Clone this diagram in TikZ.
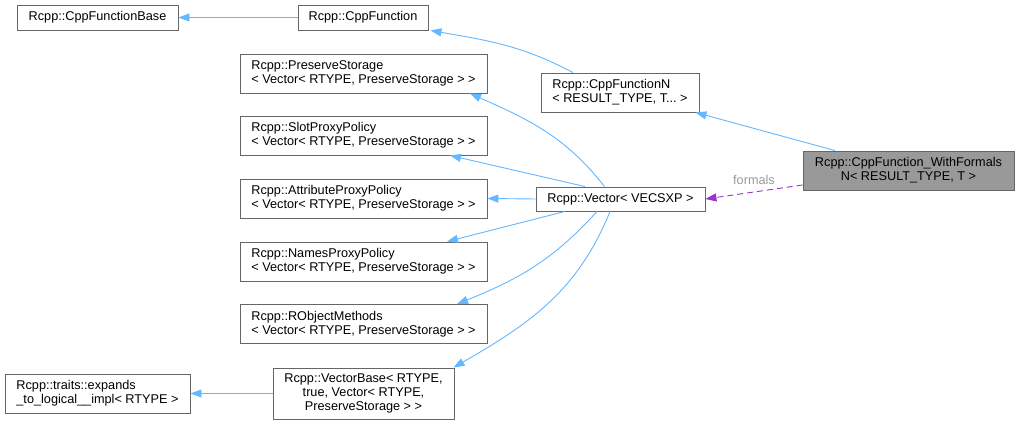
\documentclass[tikz,border=0pt]{standalone}
\usepackage{fontspec}
\setmainfont{Liberation Sans}
\usetikzlibrary{arrows.meta}
\definecolor{edgeblue}{HTML}{63B8FF}
\definecolor{edgepurple}{HTML}{9A32CD}
\definecolor{boxline}{HTML}{666666}
\definecolor{boxfill}{HTML}{999999}
\definecolor{labelgrey}{HTML}{9A9A9A}

\begin{document}
\begin{tikzpicture}[x=1pt, y=1pt,
  cls/.style={draw=boxline, fill=white, rectangle, align=left, inner sep=0pt,
    font=\fontsize{12.7}{14}\selectfont, line width=0.9pt},
  cur/.style={cls, fill=boxfill, align=center},
  inh/.style={-{Triangle[length=11pt, width=8pt]}, color=edgeblue, line width=0.9pt},
  use/.style={-{Triangle[length=11pt, width=8pt]}, color=edgepurple, dash pattern=on 6pt off 4pt, line width=0.9pt}]

\path[use as bounding box, fill=white] (0,0) rectangle (1020,425);

\node[cls, minimum width=161pt, minimum height=25pt] at (97.5, 407.5)  (base)     {Rcpp::CppFunctionBase};
\node[cls, minimum width=130pt, minimum height=25pt] at (363, 407.5)   (cppfun)   {Rcpp::CppFunction};
\node[cls, minimum width=247pt, minimum height=39pt] at (363.5, 351.5) (preserve) {Rcpp::PreserveStorage\\< Vector< RTYPE, PreserveStorage > >};
\node[cls, minimum width=247pt, minimum height=39pt] at (363.5, 289.5) (slot)     {Rcpp::SlotProxyPolicy\\< Vector< RTYPE, PreserveStorage > >};
\node[cls, minimum width=247pt, minimum height=39pt] at (363.5, 226.5) (attr)     {Rcpp::AttributeProxyPolicy\\< Vector< RTYPE, PreserveStorage > >};
\node[cls, minimum width=247pt, minimum height=39pt] at (363.5, 163.5) (names)    {Rcpp::NamesProxyPolicy\\< Vector< RTYPE, PreserveStorage > >};
\node[cls, minimum width=247pt, minimum height=39pt] at (363.5, 101)   (robj)     {Rcpp::RObjectMethods\\< Vector< RTYPE, PreserveStorage > >};
\node[cls, align=center, minimum width=181pt, minimum height=51pt] at (363.5, 31.5) (vecbase) {Rcpp::VectorBase< RTYPE,\\true, Vector< RTYPE,\\PreserveStorage > >};
\node[cls, minimum width=185pt, minimum height=39pt] at (97.5, 31.5)   (expands)  {Rcpp::traits::expands\\\_to\_logical\_\_impl< RTYPE >};
\node[cls, minimum width=158pt, minimum height=39pt] at (620, 332.5)   (cppfunN)  {Rcpp::CppFunctionN\\< RESULT\_TYPE, T...\ >};
\node[cls, minimum width=169pt, minimum height=24pt] at (620.5, 226)   (vector)   {Rcpp::Vector< VECSXP >};
\node[cur, minimum width=211pt, minimum height=39pt] at (908.5, 254.5) (formals)  {Rcpp::CppFunction\_WithFormals\\N< RESULT\_TYPE, T >};

\path[inh]
	(cppfun) edge (base)
	([xshift=-47pt]cppfunN.north) edge [out=152, in=-10] ([xshift=2pt]cppfun.south east)
	([xshift=-73.5pt]formals.north) edge ([xshift=-4pt]cppfunN.south east)
	([xshift=-16pt]vector.north) edge [out=128, in=-24] ([xshift=106.5pt]preserve.south)
	([xshift=-35.5pt]vector.north) edge ([xshift=86.5pt]slot.south)
	(vector.west) edge (attr.east)
	([xshift=-55.5pt]vector.south) edge ([xshift=83.5pt]names.north)
	([xshift=-23.5pt]vector.south) edge [out=-132, in=22] ([xshift=93.5pt]robj.north)
	([xshift=-10.5pt]vector.south) edge [out=-112, in=30] ([xshift=90pt]vecbase.north)
	(vecbase) edge (expands);

\path[use]
	([yshift=-14.5pt]formals.west) edge node [above=4pt, text=labelgrey, font=\fontsize{12.7}{14}\selectfont] {formals} (vector.east);

\end{tikzpicture}
\end{document}
